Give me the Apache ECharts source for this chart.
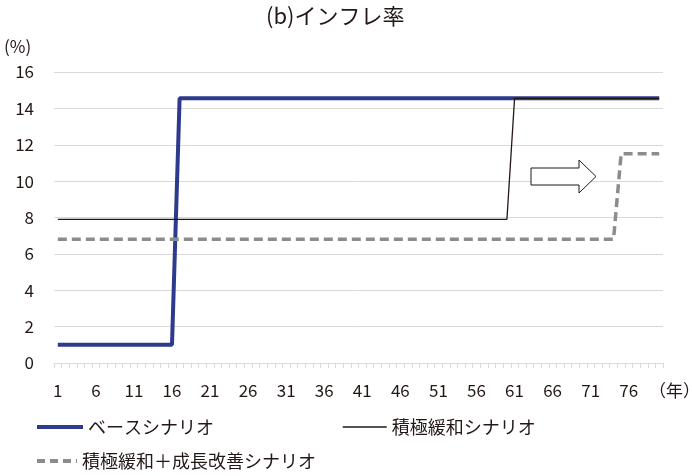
<!DOCTYPE html>
<html><head><meta charset="utf-8">
<script src="https://cdn.jsdelivr.net/npm/echarts@6/dist/echarts.min.js"></script>
<style>html,body{margin:0;padding:0;background:#fff}#c{width:692px;height:476px}</style>
</head><body><div id="c"></div>
<script>
const years = Array.from({length: 80}, (_, i) => String(i + 1));
// Base scenario: 1.0 through year 16, 14.5 from year 17
const baseScenario = [1,1,1,1,1,1,1,1,1,1,1,1,1,1,1,1,
  14.55,14.55,14.55,14.55,14.55,14.55,14.55,14.55,14.55,14.55,14.55,14.55,14.55,14.55,14.55,14.55,14.55,14.55,14.55,14.55,14.55,14.55,14.55,14.55,14.55,14.55,14.55,14.55,14.55,14.55,14.55,14.55,14.55,14.55,14.55,14.55,14.55,14.55,14.55,14.55,14.55,14.55,14.55,14.55,14.55,14.55,14.55,14.55,14.55,14.55,14.55,14.55,14.55,14.55,14.55,14.55,14.55,14.55,14.55,14.55,14.55,14.55,14.55,14.55];
// Active easing: 7.9 through year 60, 14.5 from year 61
const activeEasing = [7.9,7.9,7.9,7.9,7.9,7.9,7.9,7.9,7.9,7.9,7.9,7.9,7.9,7.9,7.9,7.9,7.9,7.9,7.9,7.9,
  7.9,7.9,7.9,7.9,7.9,7.9,7.9,7.9,7.9,7.9,7.9,7.9,7.9,7.9,7.9,7.9,7.9,7.9,7.9,7.9,
  7.9,7.9,7.9,7.9,7.9,7.9,7.9,7.9,7.9,7.9,7.9,7.9,7.9,7.9,7.9,7.9,7.9,7.9,7.9,7.9,
  14.55,14.55,14.55,14.55,14.55,14.55,14.55,14.55,14.55,14.55,14.55,14.55,14.55,14.55,14.55,14.55,14.55,14.55,14.55,14.55];
// Active easing + growth improvement: 6.8 through year 74, 11.5 from year 75
const easingGrowth = [6.8,6.8,6.8,6.8,6.8,6.8,6.8,6.8,6.8,6.8,6.8,6.8,6.8,6.8,6.8,6.8,6.8,6.8,6.8,6.8,
  6.8,6.8,6.8,6.8,6.8,6.8,6.8,6.8,6.8,6.8,6.8,6.8,6.8,6.8,6.8,6.8,6.8,6.8,6.8,6.8,
  6.8,6.8,6.8,6.8,6.8,6.8,6.8,6.8,6.8,6.8,6.8,6.8,6.8,6.8,6.8,6.8,6.8,6.8,6.8,6.8,
  6.8,6.8,6.8,6.8,6.8,6.8,6.8,6.8,6.8,6.8,6.8,6.8,6.8,6.8,11.5,11.5,11.5,11.5,11.5,11.5];
const seriesNames = ['ベースシナリオ', '積極緩和シナリオ', '積極緩和＋成長改善シナリオ'];
const FONT = '"Noto Sans CJK JP", "Noto Sans", sans-serif';
const TXT = '#231815';

function legendAt(name, left, top, w, lineStyle) {
  const l = {left: left, top: top, itemWidth: w, itemHeight: 14, padding: 0,
    data: [name], selectedMode: false,
    itemStyle: {opacity: 0, borderWidth: 0},
    textStyle: {fontFamily: FONT, fontSize: 18, color: TXT}};
  if (lineStyle) l.lineStyle = lineStyle;
  return l;
}

const chart = echarts.init(document.getElementById('c'));
chart.setOption({
  animation: false,
  textStyle: {fontFamily: FONT},
  title: {text: '(b)インフレ率', left: 261, top: 0,
    textStyle: {fontFamily: FONT, fontSize: 22, fontWeight: 'normal', color: TXT}},
  grid: {left: 54, right: 29, top: 72, bottom: 113, containLabel: false, outerBoundsMode: 'none'},
  legend: [
    legendAt(seriesNames[0], 35, 418, 46, {width: 4}),
    legendAt(seriesNames[1], 342, 418, 44, {width: 1.5}),
    legendAt(seriesNames[2], 35, 452, 40, {width: 4, type: [8, 5]})
  ],
  xAxis: {
    type: 'category', data: years, boundaryGap: true,
    name: '（年）', nameLocation: 'end', nameGap: -14,
    nameTextStyle: {fontFamily: FONT, fontSize: 17, color: TXT, align: 'left', verticalAlign: 'top', padding: [19,0,0,0]},
    axisLine: {lineStyle: {color: '#d9d9d9'}},
    axisTick: {show: true, interval: 0, length: 5, lineStyle: {color: '#d9d9d9'}},
    axisLabel: {interval: 4, fontSize: 17, color: TXT, margin: 19, fontFamily: FONT},
    splitLine: {show: false}
  },
  yAxis: {
    type: 'value', min: 0, max: 16, interval: 2,
    name: '(%)', nameLocation: 'end', nameGap: 17,
    nameTextStyle: {fontFamily: FONT, fontSize: 17, color: TXT, align: 'left', padding: [0, 0, 0, -50]},
    axisLine: {show: false}, axisTick: {show: false},
    axisLabel: {fontSize: 17, color: TXT, margin: 20, fontFamily: FONT},
    splitLine: {lineStyle: {color: '#d9d9d9', width: 1}}
  },
  series: [
    {name: seriesNames[0], type: 'line', data: baseScenario, symbol: 'none', z: 2,
     lineStyle: {color: '#2e3a8c', width: 4}, itemStyle: {color: '#2e3a8c'}},
    {name: seriesNames[1], type: 'line', data: activeEasing, symbol: 'none', z: 3,
     lineStyle: {color: '#231815', width: 1.3}, itemStyle: {color: '#231815'}},
    {name: seriesNames[2], type: 'line', data: easingGrowth, symbol: 'none', z: 2,
     lineStyle: {color: '#8c8c8c', width: 3.5, type: [9, 5]}, itemStyle: {color: '#8c8c8c'}}
  ],
  graphic: [{
    type: 'polygon', z: 10,
    shape: {points: [[531,168],[579,168],[579,160],[596,176.5],[579,193],[579,185],[531,185]]},
    style: {fill: '#fff', stroke: TXT, lineWidth: 1}
  }]
});
</script></body></html>
